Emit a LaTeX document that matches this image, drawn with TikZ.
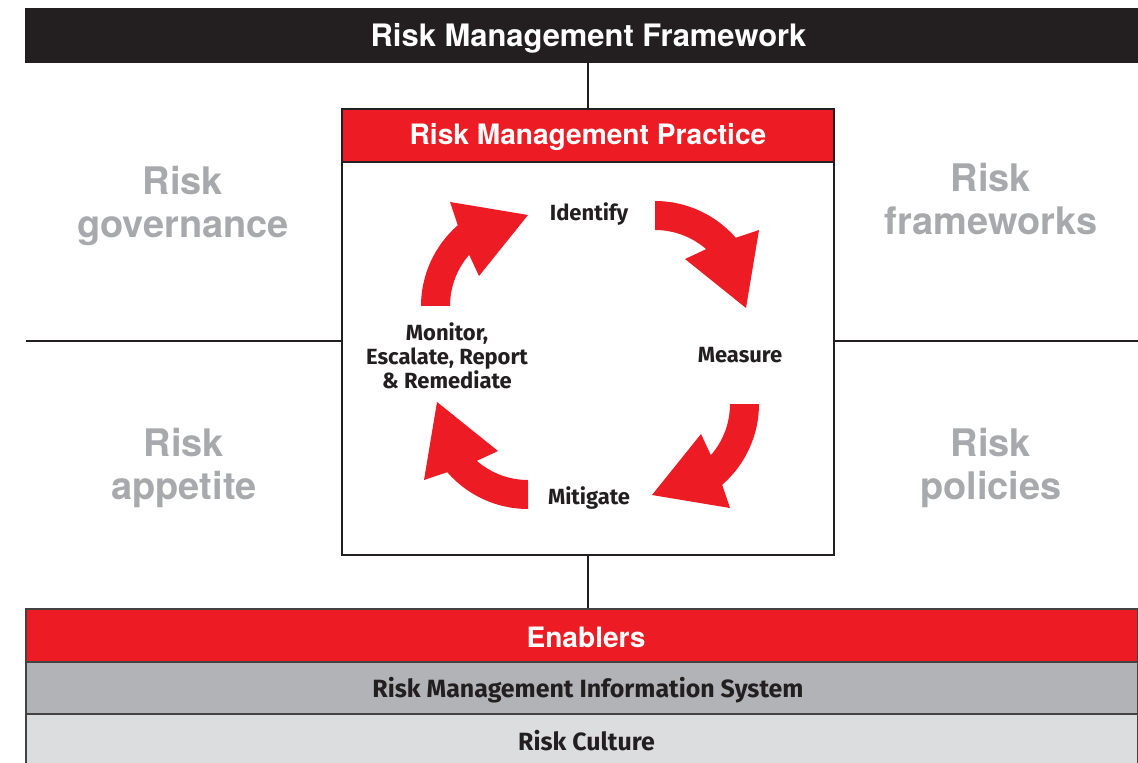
\documentclass[tikz,border=0pt]{standalone}
\usepackage{fontspec}
\setmainfont{Fira Sans}
\newfontfamily\headfont{TeX Gyre Heros}
\definecolor{rmred}{HTML}{ED1C24}
\definecolor{rmblack}{HTML}{231F20}
\definecolor{rmgrey}{HTML}{B1B3B6}
\definecolor{rmlight}{HTML}{DCDDDF}
\definecolor{rmtext}{HTML}{A7A9AC}
\tikzset{
  bar/.style={rectangle, inner sep=0pt, draw=rmblack!85, line width=0.7pt, minimum width=22.24cm},
  headtxt/.style={text=white, font=\headfont\bfseries\fontsize{16}{19}\selectfont},
  bodytxt/.style={text=rmblack, font=\bfseries\fontsize{12.5}{13.6}\selectfont, align=center},
  bartxt/.style={text=rmblack, font=\bfseries\fontsize{14.2}{16}\selectfont},
  greytxt/.style={text=rmtext, font=\headfont\bfseries\fontsize{21.6}{24.2}\selectfont, align=center},
  conn/.style={draw=rmblack, line width=0.6pt},
  cyc/.style={fill=rmred, draw=none}
}
\newcommand{\cycarrow}[3]{%
  \begin{scope}[shift={(#1,#2)}, rotate=#3]
    \path[cyc] (180:107) arc[start angle=180, end angle=131, radius=2.14cm]
      -- (-78,104) -- (0,91) -- (-49,30) -- (139:78)
      arc[start angle=139, end angle=180, radius=1.56cm] -- cycle;
  \end{scope}}
\begin{document}
\begin{tikzpicture}[x=0.02cm, y=0.02cm]
\useasboundingbox (0,0) rectangle (1138,-763);
% top bar
\node[bar, fill=rmblack, draw=rmblack, minimum height=1.06cm] (title) at (582,-35.5) {};
\node[headtxt, font=\headfont\bfseries\fontsize{17.6}{20}\selectfont] (titletxt) at (588.5,-38) {Risk Management Framework};
% practice box
\node[rectangle, draw=rmblack, line width=0.7pt, fill=white, minimum width=9.84cm, minimum height=8.92cm, inner sep=0pt] (box) at (588,-332) {};
\node[rectangle, fill=rmred, draw=rmblack, line width=0.7pt, minimum width=9.84cm, minimum height=1.06cm, inner sep=0pt] (practice) at (588,-135.5) {};
\node[headtxt] (practicetxt) at (588,-137) {Risk Management Practice};
% connectors
\draw[conn] (title.south -| box.north) -- (box.north);
\coordinate (ll) at (26,-341);
\coordinate (rr) at (1138,-341);
\coordinate (bb) at (588,-609);
\draw[conn] (ll) -- (ll -| box.west);
\draw[conn] (box.east |- rr) -- (rr);
\draw[conn] (box.south) -- (bb);
% bottom bars
\node[bar, fill=rmred, minimum height=1.06cm] (enablers) at (582,-635.5) {};
\node[bar, fill=rmgrey, minimum height=1.04cm] (ris) at (582,-688) {};
\node[bar, fill=rmlight, minimum height=1.0cm] (culture) at (582,-739) {};
\node[headtxt] (enablerstxt) at (586,-637) {Enablers};
\node[bartxt] (ristxt) at (588,-690) {Risk Management Information System};
\node[bartxt] (culturetxt) at (586.5,-741) {Risk Culture};
% grey labels
\node[greytxt] (gov) at (183,-206) {Risk\\governance};
\node[greytxt] (fw) at (991,-199) {Risk\\frameworks};
\node[greytxt] (app) at (184,-468) {Risk\\appetite};
\node[greytxt] (pol) at (991,-468) {Risk\\policies};
% cycle
\cycarrow{528}{-306}{0}
\cycarrow{655}{-308}{-90}
\cycarrow{652}{-404}{180}
\cycarrow{528}{-402}{90}
\node[bodytxt] (identify) at (589,-214) {Identify};
\node[bodytxt] (measure) at (740,-355) {Measure};
\node[bodytxt] (mitigate) at (589,-498) {Mitigate};
\node[bodytxt] (monitor) at (447,-356) {Monitor,\\Escalate, Report\\\& Remediate};
\end{tikzpicture}
\end{document}
